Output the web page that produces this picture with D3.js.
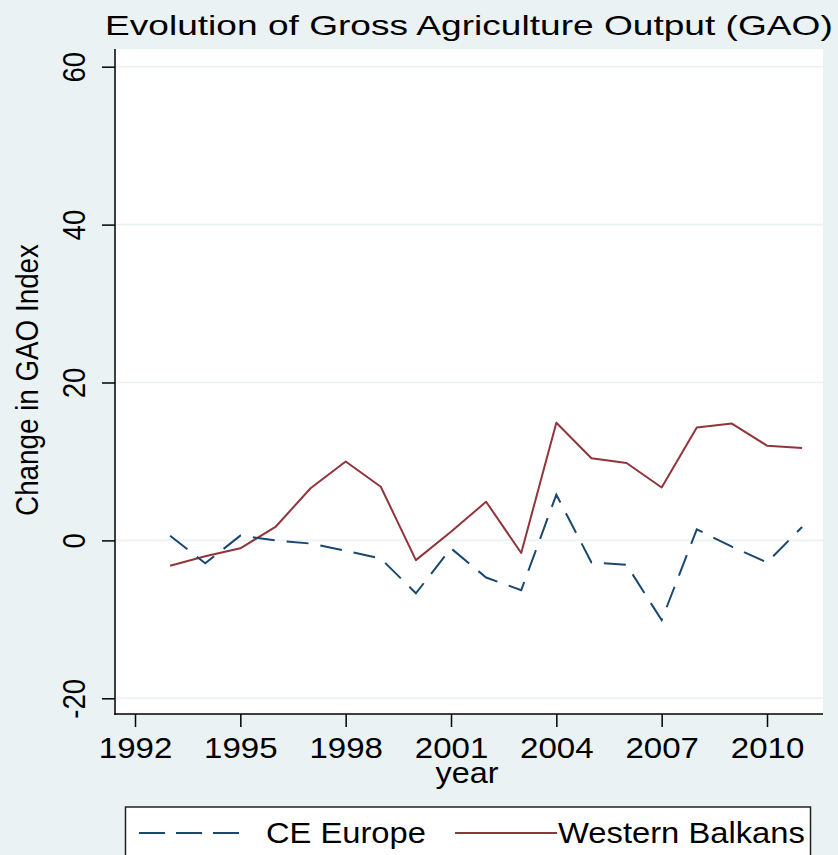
<!DOCTYPE html>
<html>
<head>
<meta charset="utf-8">
<script src="https://cdn.jsdelivr.net/npm/d3@7/dist/d3.min.js"></script>
<style>
  html, body { margin: 0; padding: 0; background: #eaf2f3; }
  svg { display: block; }
</style>
</head>
<body>
<script>
// Annual change in the Gross Agriculture Output index, by region
const years = [1993, 1994, 1995, 1996, 1997, 1998, 1999, 2000, 2001, 2002,
               2003, 2004, 2005, 2006, 2007, 2008, 2009, 2010, 2011];
const ceEurope = [0.6, -2.9, 0.6, 0.0, -0.4, -1.3, -2.3, -6.7, -1.0, -4.7,
                  -6.3, 5.8, -2.8, -3.1, -10.1, 1.4, -0.8, -2.8, 1.7];
const westernBalkans = [-3.2, -2.0, -1.0, 1.7, 6.6, 10.0, 6.8, -2.5, 1.1, 4.9,
                        -1.6, 14.9, 10.4, 9.8, 6.7, 14.3, 14.8, 12.0, 11.7];
const seriesNames = ["CE Europe", "Western Balkans"];
const xTicks = [1992, 1995, 1998, 2001, 2004, 2007, 2010];
const yTicks = [-20, 0, 20, 40, 60];

const W = 838, H = 855;
const FONT = "'Liberation Sans', Arial, Helvetica, sans-serif";
const BG = "#eaf2f3";
const NAVY = "#1a476f", MAROON = "#90353b";

// plot region bounds
const P = { left: 115, right: 823, top: 49, bottom: 714 };

const svg = d3.select("body").append("svg")
  .attr("width", W).attr("height", H)
  .style("background", BG);

const x = d3.scaleLinear().domain([1992, 2010]).range([135, 767]);
const y = d3.scaleLinear().domain([-20, 60]).range([698.3, 66.7]);

// Places a text and stretches it along its own baseline to a target length
function fitText(parent, str, o) {
  const t = parent.append("text")
    .text(str)
    .attr("font-family", FONT)
    .attr("font-size", o.size)
    .attr("text-anchor", o.anchor || "middle")
    .attr("fill", "#000");
  const L = t.node().getComputedTextLength();
  const sx = o.len ? o.len / L : (o.sx || 1);
  t.attr("transform",
    `translate(${o.x},${o.y}) rotate(${o.rot || 0}) scale(${sx},${o.sy || 1})`);
  return t;
}

// plot area
svg.append("rect")
  .attr("x", P.left).attr("y", P.top)
  .attr("width", P.right - P.left).attr("height", P.bottom - P.top)
  .attr("fill", "#fff");

// horizontal grid lines
svg.append("g").selectAll("line").data(yTicks).join("line")
  .attr("x1", P.left).attr("x2", P.right)
  .attr("y1", d => y(d)).attr("y2", d => y(d))
  .attr("stroke", BG).attr("stroke-width", 1.6);

// y axis
const gy = svg.append("g").attr("transform", `translate(${P.left},0)`)
  .call(d3.axisLeft(y).tickValues(yTicks).tickSize(13).tickSizeOuter(0));
gy.select(".domain").remove();
gy.selectAll(".tick line").attr("stroke", "#000").attr("stroke-width", 1.5);
gy.selectAll(".tick text").remove();
gy.selectAll(".tick").each(function (d) {
  fitText(d3.select(this), String(d), {
    x: -30, y: 0, size: 29, rot: -90, sx: 0.95, sy: 1.1
  });
});
svg.append("line")
  .attr("x1", P.left).attr("x2", P.left)
  .attr("y1", P.top).attr("y2", P.bottom + 0.75)
  .attr("stroke", "#000").attr("stroke-width", 1.5);

// x axis
const gx = svg.append("g").attr("transform", `translate(0,${P.bottom})`)
  .call(d3.axisBottom(x).tickValues(xTicks).tickSize(13).tickSizeOuter(0)
    .tickFormat(d3.format("d")));
gx.select(".domain").remove();
gx.selectAll(".tick line").attr("stroke", "#000").attr("stroke-width", 1.5);
gx.selectAll(".tick text").remove();
gx.selectAll(".tick").each(function (d) {
  fitText(d3.select(this), String(d), { x: 0, y: 44, size: 29, sx: 1.14 });
});
svg.append("line")
  .attr("x1", P.left - 0.75).attr("x2", P.right)
  .attr("y1", P.bottom).attr("y2", P.bottom)
  .attr("stroke", "#000").attr("stroke-width", 1.5);

// axis titles and chart title
fitText(svg, "year", { x: 467, y: 783, size: 29, len: 63 });
fitText(svg, "Change in GAO Index", {
  x: 38, y: 380, size: 29, rot: -90, len: 272, sy: 1.1
});
fitText(svg, "Evolution of Gross Agriculture Output (GAO)", {
  x: 105, y: 35, size: 28, anchor: "start", len: 728
});

// series lines
const line = d3.line()
  .x((d, i) => x(years[i]))
  .y(d => y(d));

svg.append("path").datum(westernBalkans)
  .attr("d", line)
  .attr("fill", "none")
  .attr("stroke", MAROON)
  .attr("stroke-width", 2)
  .attr("stroke-linejoin", "round");

svg.append("path").datum(ceEurope)
  .attr("d", line)
  .attr("fill", "none")
  .attr("stroke", NAVY)
  .attr("stroke-width", 2)
  .attr("stroke-dasharray", "22,12");

// legend
const lg = svg.append("g");
lg.append("rect")
  .attr("x", 125.5).attr("y", 807)
  .attr("width", 685).attr("height", 80)
  .attr("fill", "#fff").attr("stroke", "#222").attr("stroke-width", 1.5);
lg.append("line")
  .attr("x1", 139).attr("x2", 239).attr("y1", 833).attr("y2", 833)
  .attr("stroke", NAVY).attr("stroke-width", 2)
  .attr("stroke-dasharray", "26,11");
lg.append("line")
  .attr("x1", 455).attr("x2", 557).attr("y1", 833).attr("y2", 833)
  .attr("stroke", MAROON).attr("stroke-width", 2);
fitText(lg, seriesNames[0], { x: 266, y: 843, size: 29, anchor: "start", len: 160 });
fitText(lg, seriesNames[1], { x: 558, y: 843, size: 29, anchor: "start", len: 247 });
</script>
</body>
</html>
